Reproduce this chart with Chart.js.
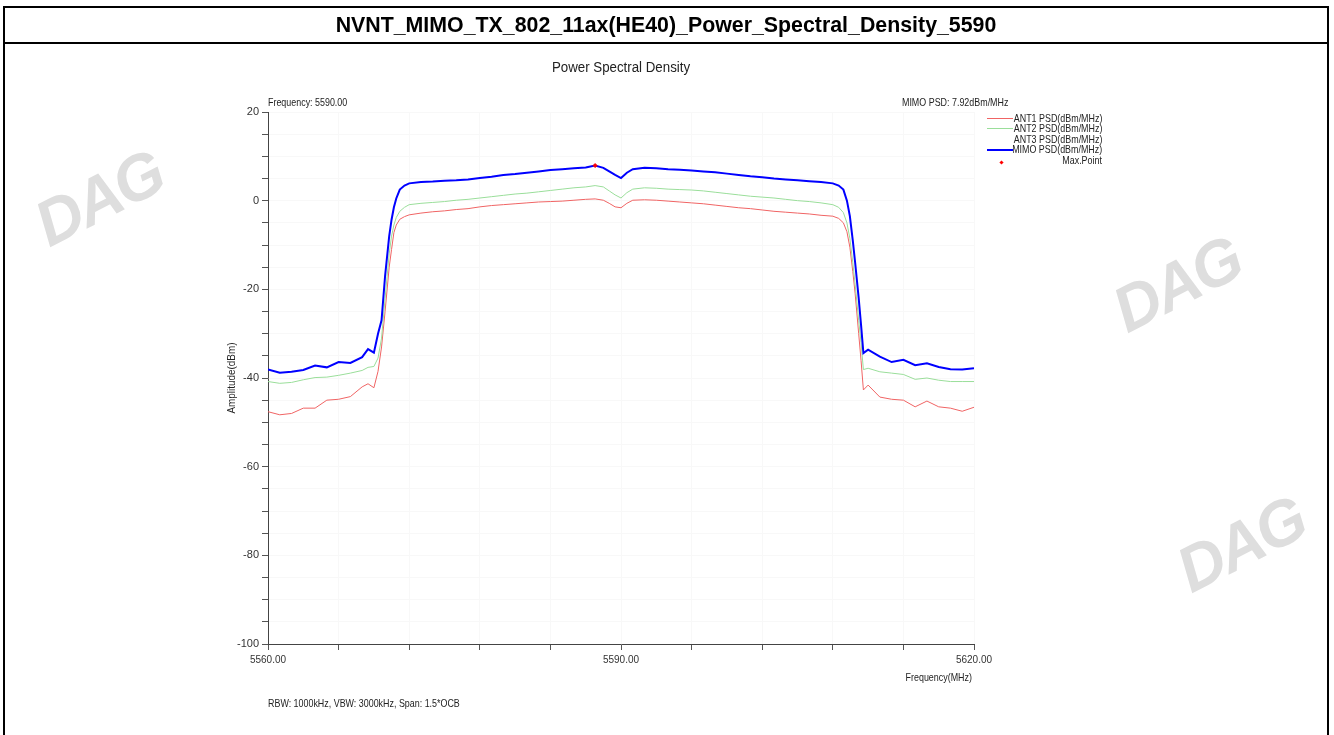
<!DOCTYPE html>
<html>
<head>
<meta charset="utf-8">
<script src="https://cdn.jsdelivr.net/npm/chart.js@4.4.1/dist/chart.umd.min.js"></script>
<style>
body { margin: 0; background: #fff; }
#page { position: relative; width: 1334px; height: 735px; overflow: hidden;
        font-family: "Liberation Sans", Arial, sans-serif; color: #222; }
#chart { position: absolute; left: 0; top: 0; }
.frame { position: absolute; left: 3px; top: 6px; width: 1322px; height: 760px;
         border: 2px solid #000; border-bottom: none; }
.sep { position: absolute; left: 3px; top: 42px; width: 1326px; height: 2px; background: #000; }
.txt { position: absolute; white-space: nowrap; line-height: 1; }
.nl { transform: scaleX(0.81); transform-origin: left center; }
.nr { transform: scaleX(0.81); transform-origin: right center; }
.title { left: 5px; width: 1322px; top: 14px; text-align: center;
         font-weight: bold; font-size: 22px; color: #000; transform: scaleX(0.97); }
.mark { position: absolute; font-size: 64px; font-weight: bold; font-style: italic; color: #dedede;
        white-space: nowrap; line-height: 1; transform: rotate(-27deg); letter-spacing: -3px; }
.lg { position: absolute; height: 0; }
</style>
</head>
<body>
<div id="page">
  <div class="mark" style="left:32px; top:166px;">DAG</div>
  <div class="mark" style="left:1110px; top:252px;">DAG</div>
  <div class="mark" style="left:1174px; top:512px;">DAG</div>
  <canvas id="chart" width="1334" height="735"></canvas>
  <div class="frame"></div>
  <div class="sep"></div>
  <div class="txt title">NVNT_MIMO_TX_802_11ax(HE40)_Power_Spectral_Density_5590</div>
  <div class="txt" style="left:621px; top:60px; transform:translateX(-50%) scaleX(0.95); font-size:14px;">Power Spectral Density</div>
  <div class="txt nl" style="left:268px; top:97px; font-size:11px;">Frequency: 5590.00</div>
  <div class="txt nr" style="right:326px; top:97px; font-size:11px;">MIMO PSD: 7.92dBm/MHz</div>
  <div id="legend"></div>
  <div class="txt" style="left:231px; top:378px; transform:translate(-50%,-50%) rotate(-90deg) scaleX(0.9); font-size:11px;">Amplitude(dBm)</div>
  <div class="txt nr" style="right:362px; top:672px; font-size:11px;">Frequency(MHz)</div>
  <div class="txt nl" style="left:268px; top:698px; font-size:11px;">RBW: 1000kHz, VBW: 3000kHz, Span: 1.5*OCB</div>
</div>
<script>
// Frequency points (MHz)
const freqs = [5560, 5561, 5562, 5563, 5564, 5565, 5566, 5567, 5568, 5568.5,
  5569, 5569.35, 5569.65, 5569.95, 5570.3, 5570.5, 5570.7, 5570.9, 5571.2, 5571.6,
  5572, 5573, 5574, 5575, 5576, 5577, 5578, 5579, 5580, 5581,
  5582, 5583, 5584, 5585, 5586, 5587, 5587.8, 5588.5, 5589, 5589.5,
  5590, 5590.5, 5591, 5592, 5593, 5594, 5595, 5596, 5597, 5598,
  5599, 5600, 5601, 5602, 5603, 5604, 5605, 5606, 5607, 5608,
  5608.5, 5608.9, 5609.2, 5609.45, 5609.7, 5609.9, 5610.2, 5610.4, 5610.6, 5611,
  5612, 5613, 5614, 5615, 5616, 5617, 5618, 5619, 5620];

// ANT1 PSD (dBm/MHz)
const ant1 = [-47.6, -48.3, -48.0, -46.8, -46.8, -45.0, -44.8, -44.2, -42.0, -41.3,
  -42.2, -38.5, -33, -25, -15, -11, -7.2, -5.5, -4.2, -3.6,
  -3.2, -2.8, -2.5, -2.3, -2.0, -1.8, -1.4, -1.1, -0.9, -0.7,
  -0.5, -0.3, -0.2, -0.1, 0.1, 0.3, 0.4, 0.1, -0.6, -1.4,
  -1.6, -0.6, 0.1, 0.2, 0.1, -0.1, -0.3, -0.5, -0.7, -1.0,
  -1.3, -1.6, -1.8, -2.1, -2.4, -2.6, -2.8, -3.0, -3.3, -3.5,
  -4.0, -5, -7, -10.5, -16, -21, -30, -36, -42.7, -41.6,
  -44.3, -44.8, -45.0, -46.5, -45.2, -46.5, -46.8, -47.5, -46.6];

// ANT2 PSD (dBm/MHz)
const ant2 = [-40.8, -41.2, -41.0, -40.4, -39.9, -39.8, -39.4, -38.9, -38.3, -37.6,
  -37.4, -35.5, -31, -22, -12, -8, -5.5, -3.8, -2.4, -1.5,
  -0.9, -0.6, -0.4, -0.2, 0.1, 0.3, 0.6, 0.9, 1.2, 1.5,
  1.7, 2.0, 2.3, 2.6, 2.9, 3.1, 3.4, 3.1, 2.2, 1.3,
  0.6, 1.8, 2.6, 2.9, 2.8, 2.6, 2.5, 2.4, 2.2, 1.9,
  1.6, 1.3, 1.0, 0.8, 0.6, 0.3, 0.0, -0.2, -0.5, -0.9,
  -1.5, -2.7, -5, -8.5, -14, -19, -27, -32, -38.1, -37.8,
  -38.6, -38.9, -39.2, -40.3, -40.0, -40.5, -40.8, -40.8, -40.8];

// ANT3 PSD (dBm/MHz) - not visible in the plot
const ant3 = [];

// MIMO PSD (dBm/MHz)
const mimo = [-38.1, -38.8, -38.6, -38.2, -37.2, -37.6, -36.4, -36.6, -35.3, -33.5,
  -34.3, -30, -27, -17, -8, -4.3, -1.5, 0.5, 2.5, 3.4,
  3.9, 4.2, 4.3, 4.5, 4.6, 4.8, 5.1, 5.4, 5.8, 6.0,
  6.3, 6.6, 6.9, 7.1, 7.3, 7.5, 7.92, 7.4, 6.6, 5.8,
  5.1, 6.3, 7.1, 7.4, 7.3, 7.1, 7.0, 6.8, 6.6, 6.4,
  6.1, 5.8, 5.5, 5.3, 5.0, 4.8, 4.6, 4.4, 4.2, 3.9,
  3.4, 2.5, 0, -3.5, -9, -14, -22, -28, -34.4, -33.6,
  -35.2, -36.4, -35.9, -37.1, -36.7, -37.5, -38.0, -38.1, -37.8];

// Max point
const maxFreq = 5587.8;
const maxValue = 7.92;

// Axis ranges
const xMin = 5560, xMax = 5620, xStep = 6;
const yMin = -100, yMax = 20, yStep = 5;

const seriesNames = ["ANT1 PSD(dBm/MHz)", "ANT2 PSD(dBm/MHz)", "ANT3 PSD(dBm/MHz)", "MIMO PSD(dBm/MHz)"];
const seriesColors = ["#f06464", "#9ade9a", "#ffffff", "#0000ff"];

function toPoints(values) {
    return values.map((v, i) => ({ x: freqs[i], y: v }));
}

const fontFamily = '"Liberation Sans", Arial, sans-serif';

// Build the legend on the right
const legendBox = document.getElementById("legend");
const legendRows = seriesNames.concat(["Max.Point"]);
legendRows.forEach((name, i) => {
    const y = 118 + i * 10.6;
    const label = document.createElement("div");
    label.className = "txt nr";
    label.style.cssText = "right:232px; top:" + (y - 5.5) + "px; font-size:11px;";
    label.textContent = name;
    legendBox.appendChild(label);
    if (i < seriesNames.length) {
        const line = document.createElement("div");
        line.className = "lg";
        const w = i === 3 ? 2 : 1;
        line.style.cssText = "left:987px; width:26px; top:" + (y - w / 2) + "px; border-top:" + w + "px solid " + seriesColors[i] + ";";
        legendBox.appendChild(line);
    } else {
        const dot = document.createElement("div");
        dot.className = "lg";
        dot.style.cssText = "left:1000px; top:" + (y + 1) + "px; width:3px; height:3px; background:#ff0000; transform:rotate(45deg);";
        legendBox.appendChild(dot);
    }
});

const ctx = document.getElementById("chart").getContext("2d");
new Chart(ctx, {
    type: "line",
    data: {
        datasets: [
            { label: "Max.Point", data: [{ x: maxFreq, y: maxValue }], showLine: false,
              pointRadius: 2, pointStyle: "rectRot", backgroundColor: "#ff0000", borderColor: "#ff0000", order: 0 },
            { label: seriesNames[3], data: toPoints(mimo), borderColor: seriesColors[3], borderWidth: 2, order: 1 },
            { label: seriesNames[2], data: toPoints(ant3), borderColor: seriesColors[2], borderWidth: 1, order: 2 },
            { label: seriesNames[1], data: toPoints(ant2), borderColor: seriesColors[1], borderWidth: 1, order: 3 },
            { label: seriesNames[0], data: toPoints(ant1), borderColor: seriesColors[0], borderWidth: 1, order: 4 }
        ]
    },
    options: {
        responsive: false,
        animation: false,
        devicePixelRatio: 1,
        events: [],
        elements: { point: { radius: 0 }, line: { tension: 0 } },
        layout: { padding: { left: 0, top: 112, right: 360, bottom: 0 } },
        plugins: { legend: { display: false }, tooltip: { enabled: false } },
        scales: {
            x: {
                type: "linear",
                min: xMin, max: xMax,
                afterFit: (scale) => { scale.height = 91; },
                ticks: {
                    stepSize: xStep, autoSkip: false, maxRotation: 0, padding: 4,
                    color: "#333", font: { family: fontFamily, size: 10 },
                    callback: (v) => (Math.abs((v - xMin) / 30 - Math.round((v - xMin) / 30)) < 1e-6 ? v.toFixed(2) : "")
                },
                grid: { color: "#f8f8f8", tickColor: "#555", tickLength: 6, drawTicks: true },
                border: { color: "#444", width: 1 }
            },
            y: {
                min: yMin, max: yMax,
                afterFit: (scale) => { scale.width = 268; },
                ticks: {
                    stepSize: yStep, autoSkip: false, padding: 3,
                    color: "#333", font: { family: fontFamily, size: 11 },
                    callback: (v) => (v % 20 === 0 ? String(v) : "")
                },
                grid: { color: "#f8f8f8", tickColor: "#555", tickLength: 6, drawTicks: true },
                border: { color: "#444", width: 1 }
            }
        }
    }
});
</script>
</body>
</html>
